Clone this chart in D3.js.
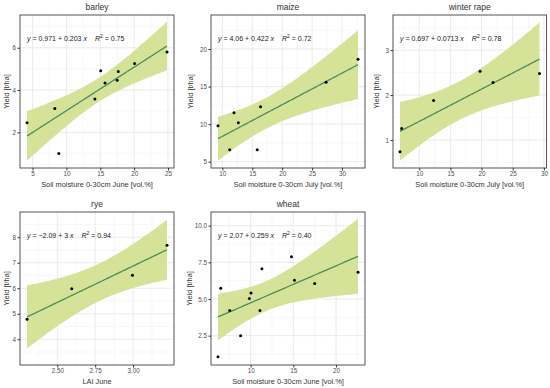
<!DOCTYPE html>
<html><head><meta charset="utf-8">
<script src="https://cdn.jsdelivr.net/npm/d3@7"></script>
<style>body{margin:0;background:#fff}svg{display:block}text{font-family:"Liberation Sans",Arial,sans-serif}</style>
</head><body><div id="c"></div>
<script>
// ---- data ----
const crops = ["barley", "maize", "winter rape", "rye", "wheat"];
const xTitles = ["Soil moisture 0-30cm June [vol.%]", "Soil moisture 0-30cm July [vol.%]", "Soil moisture 0-30cm July [vol.%]", "LAI June", "Soil moisture 0-30cm June [vol.%]"];
const barleyX = [4.18, 8.29, 8.88, 14.2, 15.06, 15.7, 17.5, 17.65, 20.06, 24.85];
const barleyY = [2.45, 3.13, 1.0, 3.57, 4.91, 4.33, 4.46, 4.88, 5.26, 5.8];
const maizeX = [9.27, 11.22, 11.94, 12.67, 15.83, 16.38, 27.33, 32.67];
const maizeY = [9.77, 6.59, 11.5, 10.17, 6.59, 12.3, 15.58, 18.63];
const rapeX = [6.91, 7.18, 12.3, 19.76, 21.84, 29.3];
const rapeY = [0.74, 1.26, 1.88, 2.53, 2.28, 2.48];
const ryeX = [2.30, 2.595, 2.996, 3.224];
const ryeY = [4.78, 5.98, 6.51, 7.69];
const wheatX = [6.18, 6.5, 7.55, 8.83, 9.85, 10.04, 11.09, 11.32, 14.78, 15.13, 17.5, 22.57];
const wheatY = [1.07, 5.73, 4.21, 2.5, 5.03, 5.41, 4.21, 7.06, 7.88, 6.27, 6.05, 6.82];
const xTicks = [[5, 10, 15, 20, 25], [10, 15, 20, 25, 30], [10, 15, 20, 25, 30], [2.5, 2.75, 3.0], [10, 15, 20]];
const yTicks = [[2, 4, 6], [5, 10, 15, 20], [1, 2, 3], [4, 5, 6, 7, 8], [2.5, 5.0, 7.5, 10.0]];
const yLimits = [[0.31, 7.55], [4.16, 24.53], [0.38, 3.78], [2.99, 8.99], [0.50, 10.93]];
const xFormats = ["d", "d", "d", ".2f", "d"];
const yFormats = ["d", "d", "d", "d", ".1f"];
const eqIntercept = ["0.971", "4.06", "0.697", "\u22122.09", "2.07"];
const eqSlope = ["0.203", "0.422", "0.0713", "3", "0.259"];
const eqR2 = ["0.75", "0.72", "0.78", "0.94", "0.40"];
const tCrit = [2.306, 2.447, 2.776, 4.303, 2.228]; // 97.5% t quantile, df = n-2

const xs = [barleyX, maizeX, rapeX, ryeX, wheatX];
const ys = [barleyY, maizeY, rapeY, ryeY, wheatY];

// ---- layout ----
const W = 550, H = 388;
const PW = 154, PH = 153;
const colLeft = [20, 211, 393];
const rowTop = [15, 212];
const yTitleOff = [13.5, 21, 16.5, 14, 22];

const svg = d3.select("#c").append("svg").attr("width", W).attr("height", H);

function fitLM(X, Y, t) {
  const n = X.length, mx = d3.mean(X), my = d3.mean(Y);
  let sxx = 0, sxy = 0;
  X.forEach((x, i) => { sxx += (x - mx) ** 2; sxy += (x - mx) * (Y[i] - my); });
  const b = sxy / sxx, a = my - b * mx;
  let sse = 0;
  X.forEach((x, i) => { sse += (Y[i] - a - b * x) ** 2; });
  const s = Math.sqrt(sse / (n - 2));
  const [x0, x1] = d3.extent(X);
  const grid = d3.range(80).map(i => x0 + (x1 - x0) * i / 79);
  return grid.map(x => {
    const f = a + b * x;
    const se = s * Math.sqrt(1 / n + (x - mx) ** 2 / sxx);
    return {x, y: f, lo: f - t * se, hi: f + t * se};
  });
}

function minors(ticks, dom) {
  const step = ticks[1] - ticks[0];
  const out = [];
  for (let v = ticks[0] - step / 2; v <= dom[1]; v += step) if (v >= dom[0]) out.push(v);
  return out;
}

crops.forEach((name, k) => {
  const X = xs[k], Y = ys[k];
  const fit = fitLM(X, Y, tCrit[k]);
  const left = colLeft[k % 3], top = rowTop[Math.floor(k / 3)];
  const pw = k % 3 === 2 ? PW - 0.5 : PW;
  const xe = d3.extent(X), xr = xe[1] - xe[0];
  const yAll = Y.concat(fit.map(d => d.lo), fit.map(d => d.hi), yLimits[k]);
  const ye = d3.extent(yAll);
  const xDom = [xe[0] - 0.05 * xr, xe[1] + 0.05 * xr];
  const yDom = ye;
  const x = d3.scaleLinear().domain(xDom).range([left, left + pw]);
  const y = d3.scaleLinear().domain(yDom).range([top + PH, top]);
  const g = svg.append("g");

  // grid
  const xm = minors(xTicks[k], xDom), ym = minors(yTicks[k], yDom);
  g.selectAll(".xmn").data(xm).join("line").attr("x1", d => x(d)).attr("x2", d => x(d))
    .attr("y1", top).attr("y2", top + PH).attr("stroke", "#f3f3f3").attr("stroke-width", 0.6);
  g.selectAll(".ymn").data(ym).join("line").attr("y1", d => y(d)).attr("y2", d => y(d))
    .attr("x1", left).attr("x2", left + pw).attr("stroke", "#f3f3f3").attr("stroke-width", 0.6);
  g.selectAll(".xmj").data(xTicks[k]).join("line").attr("x1", d => x(d)).attr("x2", d => x(d))
    .attr("y1", top).attr("y2", top + PH).attr("stroke", "#e6e6e6").attr("stroke-width", 0.8);
  g.selectAll(".ymj").data(yTicks[k]).join("line").attr("y1", d => y(d)).attr("y2", d => y(d))
    .attr("x1", left).attr("x2", left + pw).attr("stroke", "#e6e6e6").attr("stroke-width", 0.8);

  // ribbon + line
  g.append("path").datum(fit)
    .attr("d", d3.area().x(d => x(d.x)).y0(d => y(d.lo)).y1(d => y(d.hi)))
    .attr("fill", "#d0e18e").attr("opacity", 0.92);
  g.append("path").datum(fit)
    .attr("d", d3.line().x(d => x(d.x)).y(d => y(d.y)))
    .attr("fill", "none").attr("stroke", "#4e8c5c").attr("stroke-width", 1.3);

  // points
  g.selectAll(".pt").data(X.map((v, i) => [v, Y[i]])).join("circle")
    .attr("cx", d => x(d[0])).attr("cy", d => y(d[1])).attr("r", 1.5).attr("fill", "#000");

  // border
  g.append("rect").attr("x", left).attr("y", top).attr("width", pw).attr("height", PH)
    .attr("fill", "none").attr("stroke", "#555").attr("stroke-width", 1);

  // axes
  const xa = svg.append("g").attr("transform", `translate(0,${top + PH})`)
    .call(d3.axisBottom(x).tickValues(xTicks[k]).tickFormat(d3.format(xFormats[k])).tickSizeOuter(0).tickSize(2.5).tickPadding(1.5));
  const ya = svg.append("g").attr("transform", `translate(${left},0)`)
    .call(d3.axisLeft(y).tickValues(yTicks[k]).tickFormat(d3.format(yFormats[k])).tickSizeOuter(0).tickSize(2.5).tickPadding(1.5));
  [xa, ya].forEach(a => {
    a.select(".domain").remove();
    a.selectAll(".tick line").attr("stroke", "#333");
    a.selectAll(".tick text").attr("fill", "#4d4d4d").style("font-size", "6.3px").style("font-family", "Liberation Sans, Arial, sans-serif");
  });

  // titles
  svg.append("text").attr("x", left + pw / 2).attr("y", top - 5).attr("text-anchor", "middle")
    .attr("fill", "#333").style("font-size", "8.5px").text(name);
  svg.append("text").attr("x", left + pw / 2).attr("y", top + PH + 18.5).attr("text-anchor", "middle")
    .attr("fill", "#333").style("font-size", "7.4px").text(xTitles[k]);
  svg.append("text").attr("transform", `translate(${left - yTitleOff[k] + 2.5},${top + PH / 2}) rotate(-90)`)
    .attr("text-anchor", "middle").attr("fill", "#333").style("font-size", "7.4px").text("Yield [t/ha]");

  // equation
  const eq = svg.append("text").attr("x", left + 7).attr("y", top + 25.5)
    .attr("fill", "#1a1a1a").style("font-size", "7px");
  eq.append("tspan").style("font-style", "italic").text("y");
  eq.append("tspan").text(` = ${eqIntercept[k]} + ${eqSlope[k]} `);
  eq.append("tspan").style("font-style", "italic").text("x");
  eq.append("tspan").attr("dx", 8).style("font-style", "italic").text("R");
  eq.append("tspan").attr("dy", -3).style("font-size", "5px").text("2");
  eq.append("tspan").attr("dy", 3).text(` = ${eqR2[k]}`);
});
</script></body></html>
